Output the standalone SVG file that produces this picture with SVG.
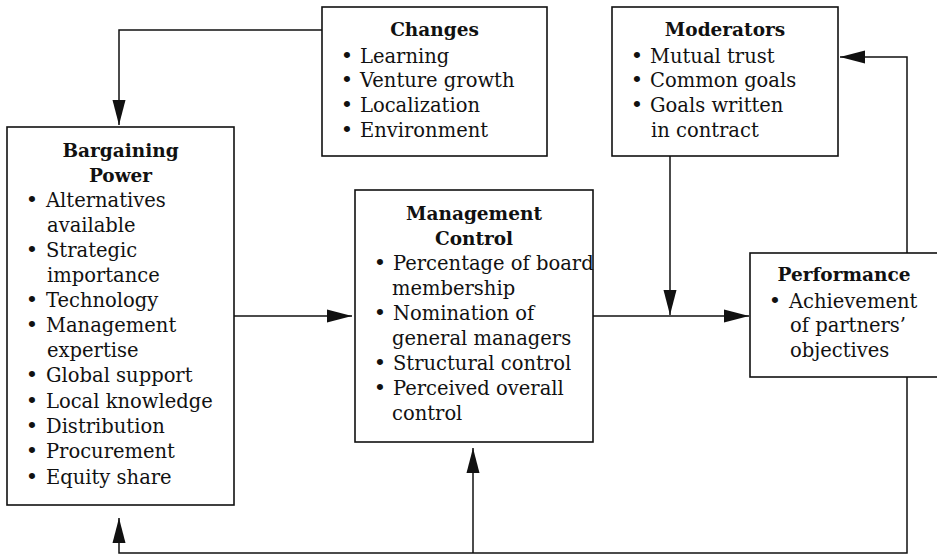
<svg xmlns="http://www.w3.org/2000/svg" width="937" height="556" viewBox="0 0 937 556">
<style>
.box{fill:#fff;stroke:#111;stroke-width:1.6}
.t{font-family:"DejaVu Serif","Liberation Serif",serif;font-size:19.5px;fill:#111}
.h{font-weight:bold;text-anchor:middle;font-size:18.5px}
.b{text-anchor:middle;font-size:21px}
.c{fill:none;stroke:#111;stroke-width:1.5}
</style>
<defs>
<marker id="ah" markerUnits="userSpaceOnUse" markerWidth="26" markerHeight="16" viewBox="0 0 26 16" refX="25" refY="8" orient="auto">
<path d="M0,1.5 L25,8 L0,14.5 Z" fill="#111"/>
</marker>
</defs>
<rect width="937" height="556" fill="#fff"/>
<g id="connectors">
<path class="c" d="M322,30 H119 V125" marker-end="url(#ah)"/>
<path class="c" d="M234,316 H352" marker-end="url(#ah)"/>
<path class="c" d="M593,316 H749" marker-end="url(#ah)"/>
<path class="c" d="M670,156 V315" marker-end="url(#ah)"/>
<path class="c" d="M907,253 V57 H840" marker-end="url(#ah)"/>
<path class="c" d="M907,377 V553 H119 V518" marker-end="url(#ah)"/>
<path class="c" d="M473,553 V448" marker-end="url(#ah)"/>
</g>
<g id="changes">
<rect class="box" x="322" y="7" width="225" height="149"/>
<text class="t h" x="434.5" y="36">Changes</text>
<text class="t b" x="347" y="63">•</text><text class="t" x="360" y="63">Learning</text>
<text class="t b" x="347" y="87">•</text><text class="t" x="360" y="87">Venture growth</text>
<text class="t b" x="347" y="112">•</text><text class="t" x="360" y="112">Localization</text>
<text class="t b" x="347" y="137">•</text><text class="t" x="360" y="137">Environment</text>
</g>
<g id="moderators">
<rect class="box" x="612" y="7" width="226" height="149"/>
<text class="t h" x="725" y="36">Moderators</text>
<text class="t b" x="637" y="63">•</text><text class="t" x="650" y="63">Mutual trust</text>
<text class="t b" x="637" y="87">•</text><text class="t" x="650" y="87">Common goals</text>
<text class="t b" x="637" y="112">•</text><text class="t" x="650" y="112">Goals written</text>
<text class="t" x="651" y="137">in contract</text>
</g>
<g id="bargaining-power">
<rect class="box" x="7" y="127" width="227" height="378"/>
<text class="t h" x="120.5" y="157">Bargaining</text>
<text class="t h" x="120.5" y="182">Power</text>
<text class="t b" x="32" y="207">•</text><text class="t" x="46" y="207">Alternatives</text>
<text class="t" x="47" y="232">available</text>
<text class="t b" x="32" y="257">•</text><text class="t" x="46" y="257">Strategic</text>
<text class="t" x="47" y="282">importance</text>
<text class="t b" x="32" y="307">•</text><text class="t" x="46" y="307">Technology</text>
<text class="t b" x="32" y="332">•</text><text class="t" x="46" y="332">Management</text>
<text class="t" x="47" y="357">expertise</text>
<text class="t b" x="32" y="382">•</text><text class="t" x="46" y="382">Global support</text>
<text class="t b" x="32" y="408">•</text><text class="t" x="46" y="408">Local knowledge</text>
<text class="t b" x="32" y="433">•</text><text class="t" x="46" y="433">Distribution</text>
<text class="t b" x="32" y="458">•</text><text class="t" x="46" y="458">Procurement</text>
<text class="t b" x="32" y="484">•</text><text class="t" x="46" y="484">Equity share</text>
</g>
<g id="management-control">
<rect class="box" x="355" y="190" width="238" height="252"/>
<text class="t h" x="474" y="220">Management</text>
<text class="t h" x="474" y="245">Control</text>
<text class="t b" x="380" y="270">•</text><text class="t" x="393" y="270">Percentage of board</text>
<text class="t" x="392" y="295">membership</text>
<text class="t b" x="380" y="320">•</text><text class="t" x="393" y="320">Nomination of</text>
<text class="t" x="392" y="345">general managers</text>
<text class="t b" x="380" y="370">•</text><text class="t" x="393" y="370">Structural control</text>
<text class="t b" x="380" y="395">•</text><text class="t" x="393" y="395">Perceived overall</text>
<text class="t" x="392" y="420">control</text>
</g>
<g id="performance">
<rect class="box" x="750" y="253" width="192" height="124"/>
<text class="t h" x="844" y="281">Performance</text>
<text class="t b" x="775" y="308">•</text><text class="t" x="789" y="308">Achievement</text>
<text class="t" x="790" y="332">of partners’</text>
<text class="t" x="790" y="357">objectives</text>
</g>
</svg>
